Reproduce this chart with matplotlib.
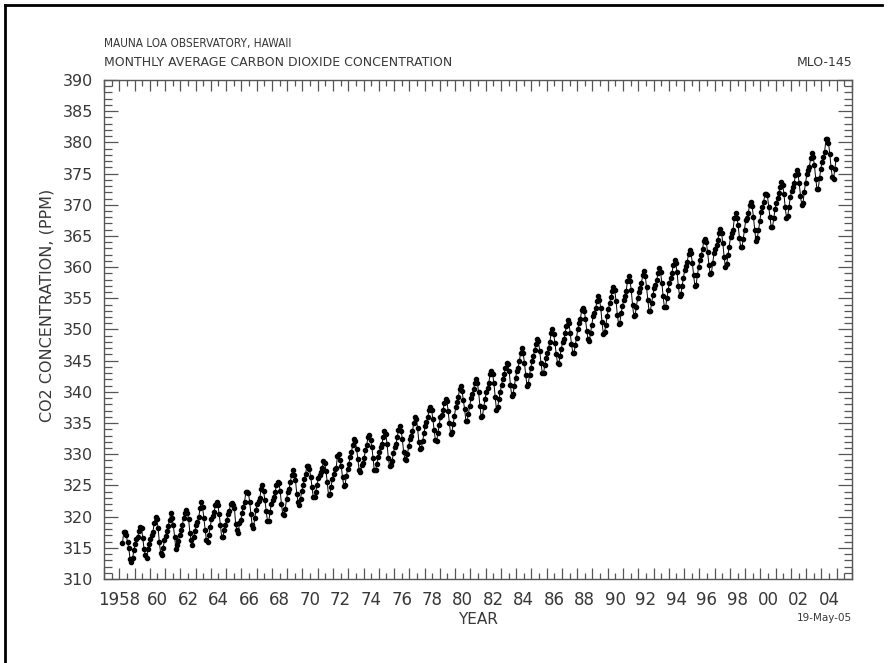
import numpy as np
import matplotlib
matplotlib.use("Agg")
import matplotlib.pyplot as plt
from matplotlib.ticker import MultipleLocator, FixedLocator, NullFormatter
from matplotlib.lines import Line2D
import matplotlib.transforms as mtransforms

# Monthly mean CO2 (ppm) at Mauna Loa (Mar 1958 - Dec 2004)
start_year = 1958
start_month = 3
co2_1958 = [315.7, 317.5, 317.5, 317.1, 315.9, 314.9, 313.2, 312.7, 313.3, 314.7]
co2_1959 = [315.6, 316.4, 316.7, 317.7, 318.3, 318.2, 316.5, 314.8, 313.8, 313.3, 314.8, 315.6]
co2_1960 = [316.4, 317.0, 317.6, 319.0, 320.0, 319.6, 318.2, 315.9, 314.2, 313.8, 315.0, 316.2]
co2_1961 = [316.9, 317.7, 318.5, 319.5, 320.6, 319.8, 318.6, 316.8, 314.8, 315.4, 316.1, 317.0]
co2_1962 = [317.9, 318.6, 319.7, 320.6, 321.0, 320.6, 319.6, 317.4, 316.3, 315.4, 316.7, 317.7]
co2_1963 = [318.7, 319.1, 319.9, 321.4, 322.3, 321.5, 319.7, 317.8, 316.2, 316.0, 317.1, 318.3]
co2_1964 = [319.6, 320.1, 320.7, 321.8, 322.3, 321.9, 320.4, 318.7, 316.7, 316.8, 317.8, 318.7]
co2_1965 = [319.4, 320.4, 320.9, 322.1, 322.2, 321.9, 321.4, 318.8, 317.8, 317.3, 318.9, 319.4]
co2_1966 = [320.6, 321.6, 322.4, 323.9, 324.0, 323.8, 322.4, 320.4, 318.6, 318.1, 319.8, 321.1]
co2_1967 = [322.1, 322.5, 323.0, 324.4, 325.0, 324.1, 322.6, 320.9, 319.3, 319.3, 320.7, 322.0]
co2_1968 = [322.6, 323.2, 323.9, 325.0, 325.6, 325.4, 324.1, 322.0, 320.4, 320.3, 321.3, 322.8]
co2_1969 = [324.0, 324.4, 325.6, 326.7, 327.4, 326.7, 325.9, 323.7, 322.4, 321.8, 322.9, 324.1]
co2_1970 = [325.0, 326.0, 326.9, 328.1, 328.1, 327.7, 326.4, 324.7, 323.1, 323.2, 324.0, 325.1]
co2_1971 = [326.2, 326.7, 327.2, 327.8, 328.9, 328.6, 327.3, 325.5, 323.4, 323.6, 324.8, 326.0]
co2_1972 = [326.8, 327.6, 327.8, 329.7, 330.1, 329.1, 328.1, 326.3, 324.9, 325.1, 326.5, 327.6]
co2_1973 = [328.5, 329.6, 330.3, 331.5, 332.5, 332.1, 330.9, 329.3, 327.5, 327.2, 328.2, 328.6]
co2_1974 = [329.4, 330.7, 331.5, 332.7, 333.1, 332.3, 331.2, 329.4, 327.4, 327.4, 328.5, 329.6]
co2_1975 = [330.3, 331.1, 331.7, 332.8, 333.8, 333.3, 331.7, 329.4, 328.1, 328.2, 328.9, 330.2]
co2_1976 = [331.1, 331.6, 332.8, 333.9, 334.5, 333.8, 332.5, 330.4, 329.3, 329.0, 330.0, 331.3]
co2_1977 = [332.5, 332.9, 333.7, 335.0, 335.9, 335.7, 334.2, 332.0, 330.8, 331.0, 332.1, 333.4]
co2_1978 = [334.5, 335.1, 335.9, 337.1, 337.6, 337.1, 335.7, 333.9, 332.3, 332.1, 333.4, 334.7]
co2_1979 = [336.0, 336.3, 337.1, 338.2, 338.8, 338.6, 337.0, 335.0, 333.3, 333.6, 334.9, 336.2]
co2_1980 = [337.5, 338.3, 339.2, 340.4, 341.0, 340.1, 338.7, 337.2, 335.3, 335.3, 336.5, 337.8]
co2_1981 = [339.0, 339.6, 340.4, 341.4, 342.0, 341.5, 339.9, 337.8, 336.0, 336.1, 337.6, 338.8]
co2_1982 = [339.9, 340.7, 341.5, 342.8, 343.4, 342.8, 341.4, 339.2, 337.1, 337.5, 338.9, 340.0]
co2_1983 = [341.1, 342.1, 342.8, 343.8, 344.6, 344.4, 343.3, 341.1, 339.4, 339.6, 340.9, 342.2]
co2_1984 = [343.4, 343.9, 344.9, 346.3, 347.0, 346.2, 344.7, 342.7, 341.0, 341.2, 342.7, 343.9]
co2_1985 = [344.9, 345.8, 346.7, 347.6, 348.5, 348.1, 346.6, 344.7, 343.1, 343.0, 344.3, 345.4]
co2_1986 = [346.3, 347.1, 348.0, 349.4, 350.0, 349.2, 347.9, 346.0, 344.7, 344.5, 345.8, 346.9]
co2_1987 = [348.0, 348.4, 349.4, 350.6, 351.6, 351.1, 349.4, 347.7, 346.3, 346.2, 347.5, 348.7]
co2_1988 = [350.1, 351.1, 351.7, 353.1, 353.5, 353.0, 351.7, 349.8, 348.4, 348.2, 349.5, 350.8]
co2_1989 = [352.1, 352.6, 353.4, 354.5, 355.3, 354.8, 353.4, 351.2, 349.3, 349.6, 350.7, 352.1]
co2_1990 = [353.3, 354.2, 355.2, 356.1, 356.8, 356.3, 354.6, 352.4, 350.9, 351.1, 352.6, 353.7]
co2_1991 = [354.7, 355.3, 356.2, 357.8, 358.6, 357.8, 356.3, 353.9, 352.1, 352.3, 353.6, 355.0]
co2_1992 = [356.0, 356.7, 357.5, 358.7, 359.3, 358.5, 356.8, 354.7, 352.9, 353.0, 354.3, 355.5]
co2_1993 = [356.7, 357.1, 357.9, 359.1, 359.8, 359.2, 357.5, 355.4, 353.6, 353.6, 355.0, 356.4]
co2_1994 = [357.5, 358.3, 359.1, 360.4, 361.1, 360.6, 359.2, 356.9, 355.3, 355.7, 357.0, 358.3]
co2_1995 = [359.6, 360.2, 360.9, 362.1, 362.7, 362.2, 360.7, 358.7, 356.9, 357.2, 358.8, 360.1]
co2_1996 = [361.2, 361.9, 362.9, 364.2, 364.5, 364.0, 362.4, 360.4, 358.9, 359.1, 360.7, 362.2]
co2_1997 = [362.9, 363.5, 364.3, 365.5, 366.1, 365.4, 363.8, 361.6, 360.0, 360.5, 361.9, 363.3]
co2_1998 = [364.8, 365.5, 366.0, 367.8, 368.6, 367.9, 366.7, 364.7, 363.2, 363.2, 364.5, 366.0]
co2_1999 = [367.6, 367.9, 368.7, 370.0, 370.5, 369.8, 368.1, 366.0, 364.2, 364.6, 365.9, 367.4]
co2_2000 = [368.8, 369.6, 370.4, 371.7, 371.8, 371.5, 369.7, 368.0, 366.5, 366.4, 367.8, 369.3]
co2_2001 = [370.3, 371.1, 371.9, 372.9, 373.6, 373.2, 371.7, 369.6, 367.9, 368.2, 369.7, 371.2]
co2_2002 = [372.2, 372.8, 373.5, 374.7, 375.5, 374.9, 373.5, 371.4, 370.0, 370.3, 372.1, 373.5]
co2_2003 = [374.9, 375.6, 376.1, 377.5, 378.3, 377.6, 376.3, 374.1, 372.5, 372.6, 374.3, 375.8]
co2_2004 = [376.9, 377.6, 378.5, 380.5, 380.6, 379.9, 378.2, 376.1, 374.5, 374.1, 375.7, 377.4]

yearly_series = [co2_1958, co2_1959, co2_1960, co2_1961, co2_1962, co2_1963, co2_1964,
                 co2_1965, co2_1966, co2_1967, co2_1968, co2_1969, co2_1970, co2_1971,
                 co2_1972, co2_1973, co2_1974, co2_1975, co2_1976, co2_1977, co2_1978,
                 co2_1979, co2_1980, co2_1981, co2_1982, co2_1983, co2_1984, co2_1985,
                 co2_1986, co2_1987, co2_1988, co2_1989, co2_1990, co2_1991, co2_1992,
                 co2_1993, co2_1994, co2_1995, co2_1996, co2_1997, co2_1998, co2_1999,
                 co2_2000, co2_2001, co2_2002, co2_2003, co2_2004]

x_label_years = list(range(1958, 2005, 2))
x_label_texts = ["1958"] + ["%02d" % (y % 100) for y in x_label_years[1:]]
y_tick_values = list(range(310, 391, 5))

title_line1 = "MAUNA LOA OBSERVATORY, HAWAII"
title_line2 = "MONTHLY AVERAGE CARBON DIOXIDE CONCENTRATION"
station_code = "MLO-145"
x_label = "YEAR"
y_label = "CO2 CONCENTRATION, (PPM)"
date_stamp = "19-May-05"

# build time axis
values = []
times = []
for i, yr_vals in enumerate(yearly_series):
    year = start_year + i
    m0 = start_month if i == 0 else 1
    for j, v in enumerate(yr_vals):
        month = m0 + j
        times.append(year + (month - 0.5) / 12.0)
        values.append(v)

plt.rcParams['font.family'] = ['DejaVu Sans']
text_color = '#383838'

fig = plt.figure(figsize=(8.9, 6.63), dpi=100)
ax = fig.add_axes([104/890, 1 - 579/663, (852 - 104)/890, (579 - 80)/663])

ax.plot(times, values, color='black', lw=0.7, marker='o', ms=3.0,
        mfc='black', mec='black', zorder=3)

ax.set_xlim(1957.0, 2006.0)
ax.set_ylim(310, 390)

ax.xaxis.set_major_locator(MultipleLocator(1))
ax.xaxis.set_major_formatter(NullFormatter())
ax.xaxis.set_minor_locator(MultipleLocator(0.5))
ax.yaxis.set_major_locator(FixedLocator(y_tick_values))
ax.yaxis.set_minor_locator(MultipleLocator(1))

ax.tick_params(axis='both', which='both', direction='in', top=True, right=True,
               color='#555555', width=0.9)
ax.tick_params(axis='x', which='major', length=8)
ax.tick_params(axis='x', which='minor', length=4.5)
ax.tick_params(axis='y', which='major', length=10, labelsize=11.5, pad=8,
               labelcolor=text_color)
ax.tick_params(axis='y', which='minor', length=6)

for s in ax.spines.values():
    s.set_color('#555555')
    s.set_linewidth(1.0)

# year labels below the axis
xtrans = mtransforms.blended_transform_factory(ax.transData, fig.transFigure)
for yr, lab in zip(x_label_years, x_label_texts):
    xpos = yr if yr == 1958 else yr + 0.5
    ax.text(xpos, 1 - 600/663, lab, transform=xtrans, fontsize=12,
            color=text_color, ha='center', va='center')

fig.text((104 + 852) / 2 / 890, 1 - 619/663, x_label, fontsize=11, color=text_color,
         ha='center', va='center')
fig.text(47/890, 1 - 305/663, y_label, fontsize=11.5, color=text_color,
         ha='center', va='center', rotation=90)

fig.text(104/890, 1 - 43/663, title_line1, fontsize=8.5, color=text_color,
         ha='left', va='center', fontstretch='condensed')
fig.text(104/890, 1 - 63/663, title_line2, fontsize=9, color=text_color,
         ha='left', va='center')
fig.text(852/890, 1 - 63/663, station_code, fontsize=9, color=text_color,
         ha='right', va='center')
fig.text(852/890, 1 - 618/663, date_stamp, fontsize=7.5, color=text_color,
         ha='right', va='center')

# outer frame (top and left edges, as in the reference)
fig.add_artist(Line2D([5/890, 5/890], [0, 1 - 5/663], transform=fig.transFigure,
                      color='black', lw=2))
fig.add_artist(Line2D([5/890, 882/890], [1 - 5/663, 1 - 5/663], transform=fig.transFigure,
                      color='black', lw=2))

fig.savefig('out.png', dpi=100)
